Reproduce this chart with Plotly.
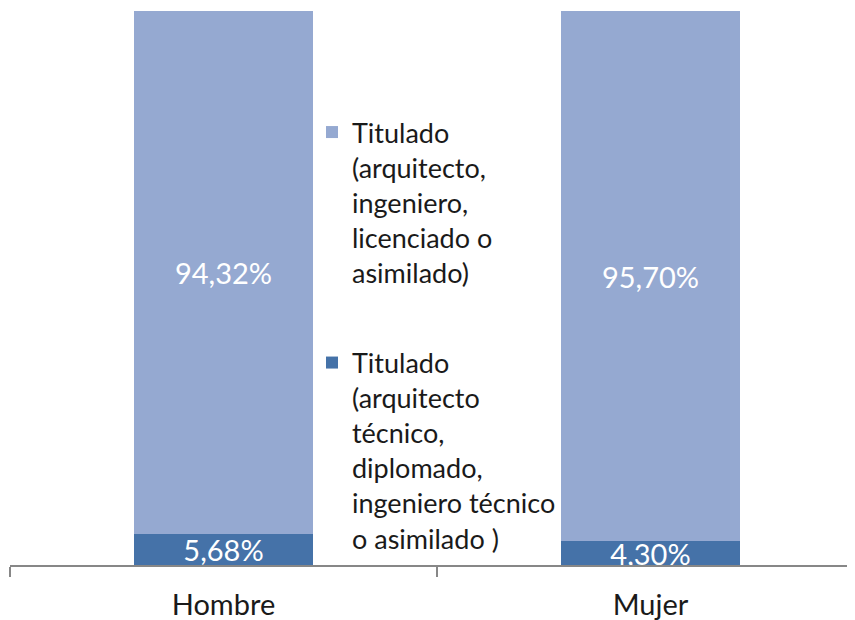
import plotly.graph_objects as go

categories = ["Hombre", "Mujer"]
tecnico = [5.68, 4.30]
superior = [94.32, 95.70]
tecnico_labels = ["5,68%", "4,30%"]
superior_labels = ["94,32%", "95,70%"]
name_tecnico = "Titulado<br>(arquitecto<br>técnico,<br>diplomado,<br>ingeniero técnico<br>o asimilado )"
name_superior = "Titulado<br>(arquitecto,<br>ingeniero,<br>licenciado o<br>asimilado)"

FONT = "Lato"

fig = go.Figure()
fig.add_trace(go.Bar(
    x=categories, y=tecnico, name=name_tecnico, legendgroup="b", legendrank=2,
    marker=dict(color="#4572A8", line=dict(width=0)),
    text=tecnico_labels, textposition="inside", insidetextanchor="middle",
    textangle=0, constraintext="none",
    textfont=dict(family=FONT, size=29, color="white"),
    width=0.417,
))
fig.add_trace(go.Bar(
    x=categories, y=superior, name=name_superior, legendgroup="a", legendrank=1,
    marker=dict(color="#95A9D1", line=dict(width=0)),
    text=superior_labels, textposition="inside", insidetextanchor="middle",
    textangle=0, constraintext="none",
    textfont=dict(family=FONT, size=29, color="white"),
    width=0.417,
))

fig.update_layout(
    width=855, height=620,
    barmode="stack",
    plot_bgcolor="white", paper_bgcolor="white",
    margin=dict(l=2, r=8, t=3, b=63),
    font=dict(family=FONT, color="#1a1a1a"),
    showlegend=True,
    legend=dict(
        x=302 / 845, xanchor="left",
        y=1 - 97 / 554, yanchor="top",
        traceorder="grouped", tracegroupgap=52,
        valign="top", itemwidth=30,
        font=dict(family=FONT, size=27, color="#1a1a1a"),
        bgcolor="rgba(0,0,0,0)",
    ),
    xaxis=dict(
        type="category", range=[-0.5, 1.479],
        showline=True, linecolor="#878787", linewidth=2,
        ticks="outside", tickson="boundaries", ticklen=10,
        tickcolor="#878787", tickwidth=2,
        tickfont=dict(family=FONT, size=29, color="#1a1a1a"),
        ticklabelstandoff=13,
        showgrid=False, zeroline=False,
    ),
    yaxis=dict(range=[0, 100], visible=False, showgrid=False, zeroline=False),
)

fig.write_html("out.html")
